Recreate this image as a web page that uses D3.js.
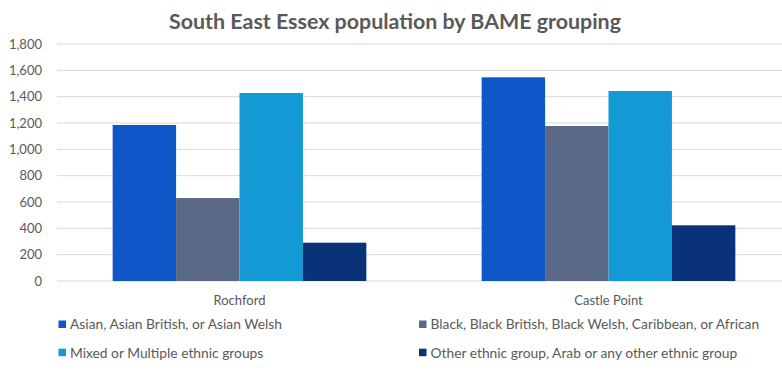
<!DOCTYPE html>
<html>
<head>
<meta charset="utf-8">
<script src="https://cdn.jsdelivr.net/npm/d3@7"></script>
<style>
  html, body { margin: 0; padding: 0; background: #fff; }
  svg { display: block; font-family: Lato, "Open Sans", sans-serif; }
</style>
</head>
<body>
<svg id="chart" width="782" height="370"></svg>
<script>
const categories = ["Rochford", "Castle Point"];
const seriesNames = [
  "Asian, Asian British, or Asian Welsh",
  "Black, Black British, Black Welsh, Caribbean, or African",
  "Mixed or Multiple ethnic groups",
  "Other ethnic group, Arab or any other ethnic group"
];
const asian = [1185, 1547];
const black = [630, 1177];
const mixed = [1428, 1443];
const other = [291, 423];
const yTicks = [0, 200, 400, 600, 800, 1000, 1200, 1400, 1600, 1800];
const colors = ["#0f56c8", "#5a6a86", "#1399d3", "#0a3278"];
const title = "South East Essex population by BAME grouping";

const seriesValues = [asian, black, mixed, other];

const svg = d3.select("#chart");
const plotTop = 44, plotBottom = 281;

const x = d3.scaleBand().domain(categories).range([55, 793])
  .paddingInner(0.3125).paddingOuter(0.15625);
const xs = d3.scaleBand().domain(d3.range(seriesNames.length)).range([0, x.bandwidth()]);
const y = d3.scaleLinear().domain([0, 1800]).range([plotBottom, plotTop]);

// gridlines
svg.append("g").selectAll("line").data(yTicks).join("line")
  .attr("x1", 57).attr("x2", 782)
  .attr("y1", d => y(d)).attr("y2", d => y(d))
  .attr("stroke", "#d9d9d9").attr("stroke-width", 1);

// y axis
const yAxis = d3.axisLeft(y).tickValues(yTicks).tickSize(0).tickPadding(0)
  .tickFormat(d3.format(","));
const ya = svg.append("g").attr("transform", "translate(42,0)").call(yAxis);
ya.select(".domain").remove();
ya.selectAll("text").attr("fill", "#595959").style("font-size", "13px")
  .style("font-family", "Lato, sans-serif");

// bars
const groups = svg.append("g").selectAll("g").data(categories).join("g")
  .attr("transform", d => `translate(${x(d)},0)`);
groups.selectAll("rect")
  .data((c, ci) => seriesValues.map((vals, si) => ({si, v: vals[ci]})))
  .join("rect")
  .attr("x", d => xs(d.si))
  .attr("width", xs.bandwidth())
  .attr("y", d => y(d.v))
  .attr("height", d => y(0) - y(d.v))
  .attr("fill", d => colors[d.si]);

// x axis labels
const xAxis = d3.axisBottom(x).tickSize(0).tickPadding(0);
const xa = svg.append("g").attr("transform", `translate(0,${plotBottom + 15})`).call(xAxis);
xa.select(".domain").remove();
xa.selectAll("text").attr("fill", "#595959").style("font-size", "13px")
  .style("font-family", "Lato, sans-serif");

// title
svg.append("text").attr("x", 395).attr("y", 29).attr("text-anchor", "middle")
  .attr("fill", "#595959").style("font-size", "21.4px").style("font-weight", "bold")
  .text(title);

// legend
const legPos = [[58.5, 324.5], [419, 324.5], [58.5, 352.7], [419, 352.7]];
const leg = svg.append("g").selectAll("g").data(seriesNames).join("g")
  .attr("transform", (d, i) => `translate(${legPos[i][0]},${legPos[i][1]})`);
leg.append("rect").attr("x", 0).attr("y", -4).attr("width", 7.5).attr("height", 7.5)
  .attr("fill", (d, i) => colors[i]);
leg.append("text").attr("x", 11.5).attr("y", 0).attr("dy", "0.35em")
  .attr("fill", "#595959").style("font-size", "13.8px").text(d => d);
</script>
</body>
</html>
